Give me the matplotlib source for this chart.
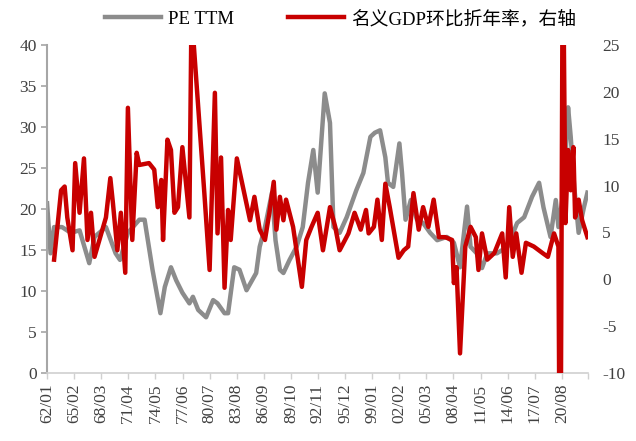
import numpy as np
import matplotlib.pyplot as plt

# PE TTM (left axis), time as fractional year
pe_t = [1962.0, 1962.4, 1962.8, 1963.7, 1964.7, 1965.7, 1966.8, 1967.4, 1968.7, 1969.8,
        1970.3, 1971.2, 1972.5, 1973.1, 1974.0, 1974.9, 1975.4, 1976.1, 1976.7, 1977.4,
        1978.2, 1978.6, 1979.2, 1980.1, 1980.9, 1981.4, 1982.2, 1982.6, 1983.3, 1983.9,
        1984.7, 1985.8, 1986.2, 1986.8, 1987.6, 1988.0, 1988.5, 1988.9, 1989.6, 1990.4,
        1991.1, 1991.7, 1992.3, 1992.8, 1993.6, 1994.2, 1994.6, 1995.3, 1996.1, 1997.2,
        1998.0, 1998.8, 1999.3, 1999.9, 2000.5, 2000.8, 2001.4, 2002.1, 2002.4, 2002.8,
        2003.4, 2004.1, 2004.8, 2005.6, 2006.4, 2007.5, 2008.3, 2009.0, 2009.8, 2010.2,
        2010.9, 2011.5, 2012.1, 2013.2, 2014.4, 2015.5, 2016.3, 2017.2, 2018.0, 2018.5,
        2019.3, 2019.9, 2020.2, 2020.8, 2021.3, 2021.6, 2022.0, 2022.5, 2023.1, 2023.5]
pe_v = [20.7, 14.6, 17.8, 17.8, 17.1, 17.4, 13.4, 16.6, 17.8, 14.6,
        13.8, 17.1, 18.7, 18.7, 12.6, 7.3, 10.5, 12.9, 11.3, 9.8,
        8.5, 9.3, 7.7, 6.8, 8.9, 8.5, 7.3, 7.3, 12.9, 12.6,
        10.1, 12.2, 15.4, 17.8, 22.0, 16.2, 12.6, 12.2, 13.8, 15.4,
        17.8, 23.2, 27.2, 22.0, 34.1, 30.5, 17.8, 17.1, 19.0, 22.3,
        24.4, 28.8, 29.3, 29.6, 26.3, 23.2, 22.7, 28.0, 24.4, 18.7,
        21.1, 18.7, 18.3, 17.1, 16.2, 16.6, 15.9, 12.9, 20.3, 15.4,
        14.6, 12.8, 14.6, 14.6, 15.4, 18.3, 19.0, 21.5, 23.2, 20.2,
        16.6, 21.1, 17.8, 22.3, 32.4, 28.8, 22.7, 17.1, 20.2, 22.0]

# nominal GDP q/q annualised, % (right axis)
gdp_t = [1962.8, 1963.6, 1964.0, 1964.3, 1964.9, 1965.2, 1965.7, 1966.2, 1966.6, 1967.0,
         1967.4, 1968.7, 1969.2, 1969.5, 1970.0, 1970.4, 1970.9, 1971.2, 1971.7, 1972.2,
         1972.5, 1973.6, 1974.2, 1974.6, 1975.0, 1975.2, 1975.7, 1976.1, 1976.5, 1976.9,
         1977.4, 1978.2, 1978.4, 1978.7, 1979.9, 1980.5, 1981.1, 1981.4, 1981.8, 1982.2,
         1982.6, 1982.9, 1983.6, 1985.1, 1985.6, 1986.2, 1986.8, 1987.3, 1987.8, 1988.1,
         1988.5, 1988.9, 1989.2, 1990.0, 1991.0, 1991.5, 1992.1, 1992.8, 1993.4, 1994.2,
         1994.8, 1995.3, 1996.3, 1997.0, 1997.7, 1998.3, 1998.6, 1999.2, 1999.6, 2000.1,
         2000.5, 2001.0, 2002.0, 2002.6, 2003.1, 2003.7, 2004.3, 2004.8, 2005.4, 2006.0,
         2006.6, 2007.3, 2008.1, 2008.3, 2008.6, 2009.0, 2009.6, 2010.2, 2010.8, 2011.1,
         2011.5, 2012.1, 2012.9, 2013.8, 2014.2, 2014.6, 2015.0, 2015.4, 2016.0, 2016.5,
         2017.4, 2018.4, 2019.0, 2019.7, 2020.2, 2020.4, 2020.7, 2021.0, 2021.3, 2021.6,
         2021.9, 2022.1, 2022.5, 2022.9, 2023.5]
gdp_v = [2.1, 9.5, 9.9, 6.6, 3.1, 12.4, 7.1, 12.9, 4.2, 7.1,
         2.4, 6.6, 10.8, 8.1, 3.1, 7.1, 0.7, 18.3, 4.2, 13.5,
         12.2, 12.4, 11.7, 7.7, 10.6, 4.2, 14.9, 13.8, 7.1, 7.7,
         14.1, 6.6, 25.0, 25.0, 9.2, 1.0, 19.9, 4.9, 13.0, -0.9,
         7.4, 4.2, 12.9, 6.3, 8.8, 5.3, 4.2, 7.1, 10.4, 5.3,
         8.8, 6.3, 8.5, 5.6, -0.8, 4.2, 5.6, 7.1, 3.1, 7.7,
         5.6, 3.1, 4.9, 7.1, 5.3, 7.4, 4.9, 5.6, 8.5, 4.2,
         10.2, 7.7, 2.3, 3.1, 3.5, 9.2, 5.3, 7.7, 5.6, 8.5,
         4.5, 4.5, 4.2, -0.4, 1.3, -7.9, 3.5, 5.6, 4.5, 1.0,
         4.9, 2.1, 2.8, 4.9, 0.2, 7.7, 2.4, 4.9, 0.7, 3.9,
         3.5, 2.8, 2.4, 4.9, 3.5, -32.0, 38.0, 6.0, 13.8, 9.5,
         14.1, 6.6, 8.5, 6.3, 4.5]

tick_labels = ['62/01', '65/02', '68/03', '71/04', '74/05', '77/06', '80/07', '83/08',
               '86/09', '89/10', '92/11', '95/12', '99/01', '02/02', '05/03', '08/04',
               '11/05', '14/06', '17/07', '20/08']

serif = ['Liberation Serif', 'Noto Sans CJK SC']
plt.rcParams['font.family'] = serif
plt.rcParams['axes.unicode_minus'] = False

fig = plt.figure(figsize=(6.36, 4.41), dpi=100)
ax = fig.add_axes([0.074, 0.154, 0.851, 0.744])
ax2 = ax.twinx()

gray = '#8c8c8c'
red = '#c80000'
l1, = ax.plot(pe_t, pe_v, color=gray, lw=3.2, label='PE TTM', zorder=2)
l2, = ax2.plot(gdp_t, gdp_v, color=red, lw=3.2, label='名义GDP环比折年率，右轴', zorder=3)

ax.set_xlim(1962.0, 2023.6)
ax.set_ylim(0, 40)
ax.set_yticks(range(0, 41, 5))
ax2.set_ylim(-10, 25)
ax2.set_yticks(range(-10, 26, 5))

# ticks every 37 months starting Jan 1962
ticks = [1962 + k * 37 / 12 for k in range(len(tick_labels))] + [2023.6]
ax.set_xticks(ticks)
ax.set_xticklabels(tick_labels + [''], rotation=90)

for a in (ax, ax2):
    for s in ('top', 'right'):
        a.spines[s].set_visible(False)
ax2.spines['left'].set_visible(False)
ax2.spines['bottom'].set_visible(False)
ax.spines['left'].set_color('#a6a6a6')
ax.spines['bottom'].set_color('#d0d0d0')
ax.spines['left'].set_linewidth(1.5)
ax.spines['bottom'].set_linewidth(1.2)

ax.tick_params(axis='y', colors='#a6a6a6', labelcolor='#404040', labelsize=12.5, length=4, width=1.2)
ax.tick_params(axis='x', colors='#d0d0d0', labelcolor='#404040', labelsize=12.5, length=4, width=1)
ax2.tick_params(axis='y', length=0, labelcolor='#404040', labelsize=12.5, pad=10)

# keep the grey line under the red one
ax.set_zorder(1)
ax2.set_zorder(2)
ax2.patch.set_visible(False)

fig.legend(handles=[l1, l2], loc='upper center', bbox_to_anchor=(0.535, 1.015), ncol=2,
           frameon=False, handlelength=3.0, handletextpad=0.35, columnspacing=2.9,
           prop={'family': serif, 'size': 13.5})

plt.savefig('out.png', dpi=100)
